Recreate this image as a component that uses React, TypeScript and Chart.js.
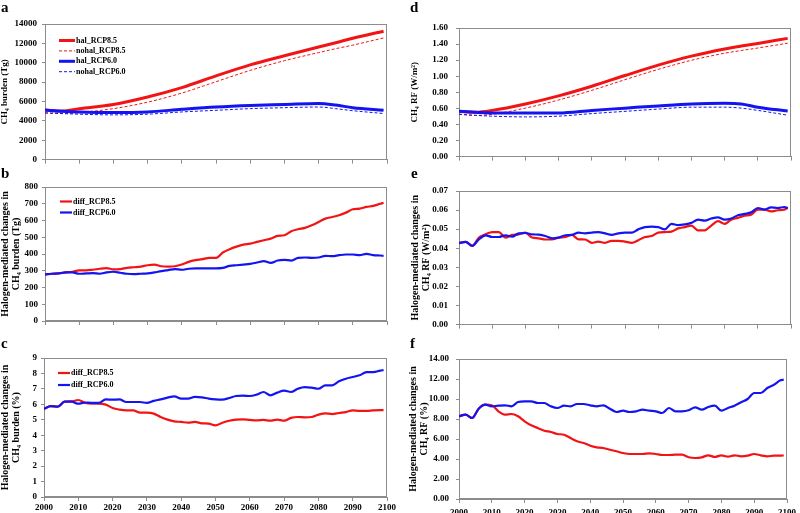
import React, { useEffect, useRef } from 'react';
import { Chart, registerables } from 'chart.js';

Chart.register(...registerables);
Chart.defaults.font.family = '"Liberation Serif", "Times New Roman", serif';

// ---------- DATA ----------
const yearsSmooth = [2000, 2005, 2010, 2020, 2030, 2040, 2050, 2060, 2070, 2080, 2085, 2090, 2099];

// Panel a: CH4 burden (Tg)
const burdenHal85 = [5120, 5020, 5260, 5690, 6460, 7430, 8640, 9780, 10720, 11620, 12060, 12530, 13250];
const burdenNohal85 = [4820, 4760, 4860, 5260, 5930, 6870, 8040, 9210, 10210, 11050, 11450, 11820, 12560];
const burdenHal60 = [5120, 5000, 4920, 4860, 4920, 5190, 5430, 5590, 5690, 5790, 5630, 5360, 5090];
const burdenNohal60 = [4820, 4750, 4690, 4620, 4690, 4920, 5090, 5260, 5360, 5430, 5260, 5050, 4760];

// Panel d: CH4 RF (W/m2)
const rfHal85 = [0.563, 0.553, 0.575, 0.655, 0.756, 0.876, 1.009, 1.138, 1.25, 1.339, 1.375, 1.407, 1.471];
const rfNohal85 = [0.527, 0.513, 0.527, 0.603, 0.704, 0.824, 0.957, 1.085, 1.198, 1.286, 1.32, 1.351, 1.411];
const rfHal60 = [0.563, 0.553, 0.543, 0.543, 0.543, 0.575, 0.603, 0.631, 0.655, 0.663, 0.655, 0.615, 0.567];
const rfNohal60 = [0.527, 0.513, 0.503, 0.494, 0.503, 0.535, 0.563, 0.591, 0.615, 0.615, 0.603, 0.575, 0.515];

const yearsNoisy = [
  2000, 2002, 2004, 2006, 2008, 2010, 2012, 2014, 2016, 2018,
  2020, 2022, 2024, 2026, 2028, 2030, 2032, 2034, 2036, 2038,
  2040, 2042, 2044, 2046, 2048, 2050, 2052, 2054, 2056, 2058,
  2060, 2062, 2064, 2066, 2068, 2070, 2072, 2074, 2076, 2078,
  2080, 2082, 2084, 2086, 2088, 2090, 2092, 2094, 2096, 2098, 2099,
];

// Panel b: halogen-mediated changes in CH4 burden (Tg)
const diffBurden85 = [
  278, 282, 284, 290, 294, 302, 302, 306, 312, 316,
  308, 310, 317, 321, 325, 333, 337, 327, 325, 327,
  337, 353, 363, 369, 377, 377, 409, 429, 444, 456,
  462, 472, 482, 492, 508, 512, 536, 548, 556, 571,
  591, 611, 621, 631, 647, 667, 671, 681, 687, 700, 706,
];
const diffBurden60 = [
  278, 282, 284, 290, 290, 282, 284, 286, 282, 290,
  294, 288, 282, 280, 282, 284, 290, 298, 304, 310,
  306, 312, 314, 314, 314, 314, 317, 329, 333, 337,
  341, 349, 357, 347, 361, 365, 361, 377, 379, 377,
  379, 389, 387, 393, 397, 397, 393, 401, 393, 391, 389,
];

// Panel c: halogen-mediated changes in CH4 burden (%)
const diffBurdenPct85 = [
  5.72, 5.88, 5.85, 6.17, 6.19, 6.28, 6.09, 6.04, 6.04, 5.98,
  5.76, 5.66, 5.61, 5.61, 5.46, 5.46, 5.4, 5.18, 5.01, 4.9,
  4.86, 4.81, 4.86, 4.77, 4.75, 4.64, 4.81, 4.94, 5.01, 5.03,
  4.99, 4.96, 4.99, 4.94, 5.01, 4.94, 5.12, 5.18, 5.16, 5.18,
  5.33, 5.42, 5.37, 5.44, 5.5, 5.61, 5.57, 5.57, 5.61, 5.63, 5.63,
];
const diffBurdenPct60 = [
  5.72, 5.88, 5.85, 6.17, 6.18, 6.04, 6.12, 6.09, 6.09, 6.32,
  6.3, 6.32, 6.15, 6.15, 6.15, 6.09, 6.22, 6.32, 6.43, 6.52,
  6.37, 6.37, 6.48, 6.45, 6.37, 6.32, 6.3, 6.41, 6.54, 6.56,
  6.54, 6.63, 6.8, 6.58, 6.76, 6.89, 6.8, 7.01, 7.12, 7.08,
  7.01, 7.23, 7.23, 7.49, 7.66, 7.77, 7.88, 8.09, 8.09, 8.18, 8.22,
];

// Panel e: halogen-mediated changes in CH4 RF (W/m2)
const diffRf85 = [
  0.0427, 0.0433, 0.0413, 0.0456, 0.0473, 0.0485, 0.0485, 0.0456, 0.047, 0.0473,
  0.0482, 0.0456, 0.0452, 0.0446, 0.0446, 0.0456, 0.0459, 0.047, 0.0447, 0.0446,
  0.0428, 0.0435, 0.0428, 0.0439, 0.0439, 0.0435, 0.0428, 0.0442, 0.0459, 0.0464,
  0.0482, 0.0485, 0.0487, 0.0504, 0.0511, 0.0519, 0.0494, 0.0494, 0.0519, 0.0542,
  0.0528, 0.055, 0.0559, 0.0571, 0.0576, 0.0602, 0.0602, 0.0593, 0.0599, 0.0602, 0.0614,
];
const diffRf60 = [
  0.0427, 0.0433, 0.0413, 0.0447, 0.0468, 0.0459, 0.0459, 0.0468, 0.0461, 0.0478,
  0.048, 0.0473, 0.0471, 0.0464, 0.0452, 0.0456, 0.0468, 0.047, 0.0482, 0.0478,
  0.0482, 0.0485, 0.0478, 0.047, 0.0478, 0.0482, 0.0482, 0.0499, 0.0511, 0.0513,
  0.0511, 0.0499, 0.0528, 0.0521, 0.0525, 0.0533, 0.055, 0.0545, 0.0556, 0.0562,
  0.055, 0.0556, 0.0573, 0.058, 0.0588, 0.0611, 0.0602, 0.0614, 0.0611, 0.0616, 0.0609,
];

// Panel f: halogen-mediated changes in CH4 RF (%)
const diffRfPct85 = [
  8.27, 8.43, 8.1, 9.03, 9.43, 9.37, 8.77, 8.43, 8.5, 8.27,
  7.77, 7.37, 7.1, 6.83, 6.7, 6.5, 6.43, 6.1, 5.77, 5.6,
  5.33, 5.17, 5.1, 4.93, 4.77, 4.6, 4.5, 4.5, 4.5, 4.57,
  4.5, 4.4, 4.4, 4.43, 4.43, 4.17, 4.1, 4.17, 4.37, 4.2,
  4.37, 4.23, 4.37, 4.27, 4.33, 4.5, 4.37, 4.27, 4.33, 4.33, 4.37,
];
const diffRfPct60 = [
  8.27, 8.43, 8.1, 9.03, 9.43, 9.27, 9.33, 9.37, 9.27, 9.7,
  9.77, 9.77, 9.6, 9.6, 9.27, 9.1, 9.33, 9.27, 9.5, 9.5,
  9.37, 9.27, 9.37, 9.03, 8.7, 8.83, 8.7, 8.77, 8.93, 8.83,
  8.77, 8.6, 9.1, 8.77, 8.77, 8.87, 9.17, 8.93, 9.2, 9.33,
  8.83, 9.1, 9.33, 9.67, 10.0, 10.6, 10.6, 11.1, 11.43, 11.87, 11.93,
];

// ---------- STYLE ----------
const RED = '#f21414';
const BLUE = '#1414f0';
const GRAY = '#8c8c8c';
const FONT = '"Liberation Serif", "Times New Roman", serif';

const pts = (xs: number[], ys: number[]) => xs.map((x, i) => ({ x, y: ys[i] }));

function line(label: string, xs: number[], ys: number[], color: string, width: number, dashed: boolean, order: number) {
  return {
    label,
    data: pts(xs, ys),
    borderColor: color,
    backgroundColor: color,
    borderWidth: width,
    borderDash: dashed ? [3, 2] : [],
    pointRadius: 0,
    cubicInterpolationMode: 'monotone',
    fill: false,
    order,
  };
}

type Spec = {
  cx: number; cy: number; cw: number; ch: number;
  L: number; T: number; R: number; B: number;
  yMin: number; yMax: number; yStep: number; yDec: number; yPad: number;
  title: string | string[]; titleSize: number; titlePad: number;
  showX: boolean; xPad: number;
  datasets: any[];
  legend?: { x: number; y: number; len: number; row: number; size: number };
};

function buildConfig(p: Spec): any {
  const padTop = p.T - p.cy;
  const padRight = p.cx + p.cw - p.R;
  const yW = p.L - p.cx;
  const xH = p.cy + p.ch - p.B;

  const boxPlugin = {
    id: 'box' + p.cx + '_' + p.cy,
    beforeDatasetsDraw(chart: any) {
      const { ctx, chartArea } = chart;
      ctx.save();
      ctx.strokeStyle = GRAY;
      ctx.lineWidth = 1;
      const l = Math.round(chartArea.left) + 0.5;
      const t = Math.round(chartArea.top) + 0.5;
      const r = Math.round(chartArea.right) - 0.5;
      const b = Math.round(chartArea.bottom) - 0.5;
      ctx.strokeRect(l, t, r - l, b - t);
      ctx.restore();
    },
  };

  const legendPlugin = {
    id: 'leg' + p.cx + '_' + p.cy,
    afterDraw(chart: any) {
      const lg = p.legend;
      if (!lg) return;
      const ctx = chart.ctx;
      ctx.save();
      ctx.font = `bold ${lg.size}px ${FONT}`;
      ctx.textBaseline = 'middle';
      ctx.textAlign = 'left';
      chart.data.datasets.forEach((ds: any, i: number) => {
        const y = lg.y + i * lg.row;
        ctx.strokeStyle = ds.borderColor;
        ctx.lineWidth = ds.borderWidth;
        ctx.setLineDash(ds.borderDash || []);
        ctx.beginPath();
        ctx.moveTo(lg.x, y);
        ctx.lineTo(lg.x + lg.len, y);
        ctx.stroke();
        ctx.setLineDash([]);
        ctx.fillStyle = '#000';
        ctx.fillText(ds.label, lg.x + lg.len + 1, y);
      });
      ctx.restore();
    },
  };

  return {
    type: 'line',
    data: { datasets: p.datasets },
    options: {
      animation: false,
      responsive: false,
      layout: { padding: { top: padTop, right: padRight, left: 0, bottom: 0 } },
      plugins: { legend: { display: false }, tooltip: { enabled: false } },
      scales: {
        x: {
          type: 'linear',
          min: 2000,
          max: 2100,
          afterFit: (s: any) => { s.height = xH; },
          border: { display: true, color: GRAY },
          grid: { drawOnChartArea: false, drawTicks: true, tickLength: 4, color: GRAY },
          ticks: {
            display: p.showX,
            stepSize: 10,
            autoSkip: false,
            maxRotation: 0,
            padding: p.xPad,
            color: '#000',
            font: { size: 9, weight: 'bold', family: FONT },
            callback: (v: any) => String(v),
          },
        },
        y: {
          type: 'linear',
          min: p.yMin,
          max: p.yMax,
          afterFit: (s: any) => { s.width = yW; },
          border: { display: true, color: GRAY },
          grid: { drawOnChartArea: false, drawTicks: true, tickLength: 3, color: GRAY },
          ticks: {
            stepSize: p.yStep,
            autoSkip: false,
            padding: p.yPad,
            color: '#000',
            font: { size: 9, weight: 'bold', family: FONT },
            callback: (v: any) => Number(v).toFixed(p.yDec),
          },
          title: {
            display: true,
            text: p.title,
            color: '#000',
            font: { size: p.titleSize, weight: 'bold', family: FONT, lineHeight: 1.1 },
            padding: { top: p.titlePad, bottom: 0 },
          },
        },
      },
    },
    plugins: [boxPlugin, legendPlugin],
  };
}

const specs: Spec[] = [
  {
    cx: 0, cy: 0, cw: 400, ch: 170, L: 45, T: 24, R: 387, B: 163,
    yMin: 0, yMax: 14000, yStep: 2000, yDec: 0, yPad: 5,
    title: 'CH₄ burden (Tg)', titleSize: 9, titlePad: 0,
    showX: false, xPad: 1,
    datasets: [
      line('hal_RCP8.5', yearsSmooth, burdenHal85, RED, 3, false, 3),
      line('nohal_RCP8.5', yearsSmooth, burdenNohal85, RED, 1, true, 2),
      line('hal_RCP6.0', yearsSmooth, burdenHal60, BLUE, 3, false, 1),
      line('nohal_RCP6.0', yearsSmooth, burdenNohal60, BLUE, 1, true, 0),
    ],
    legend: { x: 59, y: 40.5, len: 16, row: 10.4, size: 8 },
  },
  {
    cx: 0, cy: 170, cw: 400, ch: 168, L: 45, T: 187, R: 387, B: 321,
    yMin: 0, yMax: 800, yStep: 100, yDec: 0, yPad: 4,
    title: ['Halogen-mediated changes in', 'CH₄ burden (Tg)'], titleSize: 10, titlePad: 0,
    showX: false, xPad: 1,
    datasets: [
      line('diff_RCP8.5', yearsNoisy, diffBurden85, RED, 2.2, false, 1),
      line('diff_RCP6.0', yearsNoisy, diffBurden60, BLUE, 2.2, false, 0),
    ],
    legend: { x: 60, y: 31.5, len: 12, row: 11, size: 8 },
  },
  {
    cx: 0, cy: 338, cw: 400, ch: 175, L: 44, T: 358, R: 387, B: 497,
    yMin: 0, yMax: 9, yStep: 1, yDec: 0, yPad: 4,
    title: ['Halogen-mediated changes in', 'CH₄ burden (%)'], titleSize: 10, titlePad: 0,
    showX: true, xPad: 1,
    datasets: [
      line('diff_RCP8.5', yearsNoisy, diffBurdenPct85, RED, 2.2, false, 1),
      line('diff_RCP6.0', yearsNoisy, diffBurdenPct60, BLUE, 2.2, false, 0),
    ],
    legend: { x: 58, y: 35, len: 12, row: 12, size: 8 },
  },
  {
    cx: 400, cy: 0, cw: 400, ch: 170, L: 459, T: 28, R: 791, B: 161,
    yMin: 0, yMax: 1.6, yStep: 0.2, yDec: 2, yPad: 8,
    title: 'CH₄ RF (W/m²)', titleSize: 9, titlePad: 10,
    showX: false, xPad: 1,
    datasets: [
      line('hal_RCP8.5', yearsSmooth, rfHal85, RED, 3, false, 3),
      line('nohal_RCP8.5', yearsSmooth, rfNohal85, RED, 1, true, 2),
      line('hal_RCP6.0', yearsSmooth, rfHal60, BLUE, 3, false, 1),
      line('nohal_RCP6.0', yearsSmooth, rfNohal60, BLUE, 1, true, 0),
    ],
  },
  {
    cx: 400, cy: 170, cw: 400, ch: 168, L: 459, T: 191, R: 791, B: 327,
    yMin: 0, yMax: 0.07, yStep: 0.01, yDec: 2, yPad: 8,
    title: ['Halogen-mediated changes in', 'CH₄ RF (W/m²)'], titleSize: 10, titlePad: 10,
    showX: false, xPad: 1,
    datasets: [
      line('diff_RCP8.5', yearsNoisy, diffRf85, RED, 2.2, false, 1),
      line('diff_RCP6.0', yearsNoisy, diffRf60, BLUE, 2.2, false, 0),
    ],
  },
  {
    cx: 400, cy: 338, cw: 400, ch: 175, L: 459, T: 359, R: 791, B: 499,
    yMin: 0, yMax: 14, yStep: 2, yDec: 2, yPad: 7,
    title: ['Halogen-mediated changes in', 'CH₄ RF (%)'], titleSize: 10, titlePad: 8,
    showX: true, xPad: 4,
    datasets: [
      line('diff_RCP8.5', yearsNoisy, diffRfPct85, RED, 2.2, false, 1),
      line('diff_RCP6.0', yearsNoisy, diffRfPct60, BLUE, 2.2, false, 0),
    ],
  },
];

const panelLetters = [
  { t: 'a', x: 1, y: 0 },
  { t: 'b', x: 1, y: 166 },
  { t: 'c', x: 1, y: 336 },
  { t: 'd', x: 410, y: 0 },
  { t: 'e', x: 411, y: 166 },
  { t: 'f', x: 410, y: 336 },
];

function ChartPanel({ spec }: { spec: Spec }) {
  const ref = useRef<HTMLCanvasElement>(null);
  useEffect(() => {
    if (!ref.current) return;
    const chart = new Chart(ref.current, buildConfig(spec));
    return () => chart.destroy();
  }, [spec]);
  return (
    <canvas
      ref={ref}
      width={spec.cw}
      height={spec.ch}
      style={{ position: 'absolute', left: spec.cx, top: spec.cy, width: spec.cw, height: spec.ch }}
    />
  );
}

export default function App() {
  return (
    <div style={{ position: 'fixed', left: 0, top: 0, width: 800, height: 513, background: '#fff', overflow: 'hidden' }}>
      {specs.map((s, i) => (
        <ChartPanel key={i} spec={s} />
      ))}
      {panelLetters.map((l) => (
        <div
          key={l.t}
          style={{
            position: 'absolute',
            left: l.x,
            top: l.y,
            fontFamily: FONT,
            fontWeight: 'bold',
            fontSize: 15,
            lineHeight: '15px',
            color: '#000',
          }}
        >
          {l.t}
        </div>
      ))}
    </div>
  );
}
